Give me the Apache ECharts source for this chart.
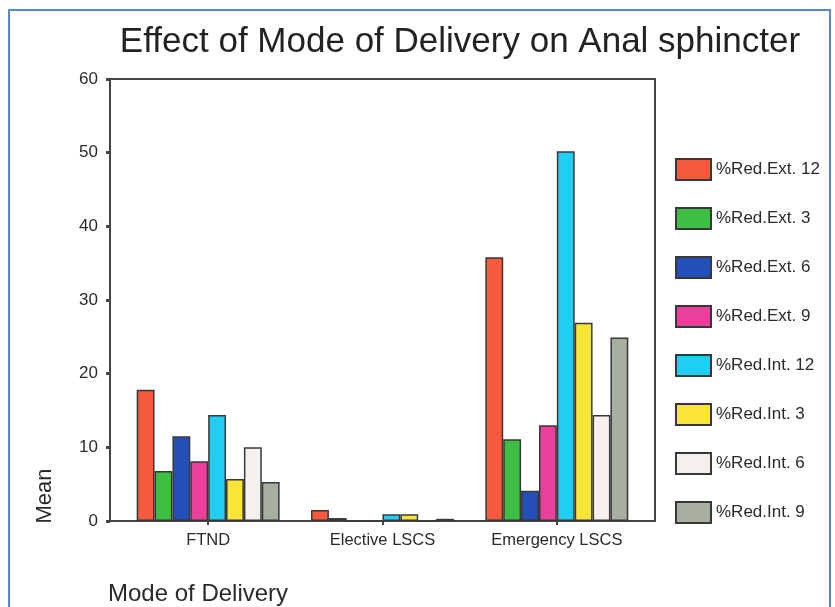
<!DOCTYPE html>
<html>
<head>
<meta charset="utf-8">
<script src="https://cdn.jsdelivr.net/npm/echarts@6/dist/echarts.min.js"></script>
<style>
html,body{margin:0;padding:0;background:#fff;}
#chart{width:835px;height:607px;}
</style>
</head>
<body>
<div id="chart"></div>
<script>
const categories = ['FTND', 'Elective LSCS', 'Emergency LSCS'];
const seriesNames = ['%Red.Ext. 12', '%Red.Ext. 3', '%Red.Ext. 6', '%Red.Ext. 9', '%Red.Int. 12', '%Red.Int. 3', '%Red.Int. 6', '%Red.Int. 9'];
const redExt12 = [17.8, 1.5, 35.8];
const redExt3  = [6.8, 0.4, 11.1];
const redExt6  = [11.5, 0, 4.1];
const redExt9  = [8.1, 0, 13.0];
const redInt12 = [14.4, 0.9, 50.2];
const redInt3  = [5.7, 0.9, 26.9];
const redInt6  = [10.0, 0, 14.4];
const redInt9  = [5.3, 0.3, 24.9];
const yTicks = [0, 10, 20, 30, 40, 50, 60];

const seriesValues = [redExt12, redExt3, redExt6, redExt9, redInt12, redInt3, redInt6, redInt9];
const colors = ['#f55a3c', '#3cbf43', '#2350b8', '#ea3f9b', '#22cdf3', '#f9e43a', '#f4f0ee', '#a7afa1'];
const FONT = '"Liberation Sans", Arial, sans-serif';
const AX = '#444';

const chart = echarts.init(document.getElementById('chart'), null, {renderer: 'canvas'});

const series = seriesValues.map((vals, i) => ({
  name: seriesNames[i],
  type: 'bar',
  xAxisIndex: 0,
  yAxisIndex: 0,
  data: vals,
  barGap: '0%',
  barCategoryGap: '18%',
  itemStyle: {color: colors[i], borderColor: '#383838', borderWidth: 1.5},
  emphasis: {disabled: true}
}));

chart.setOption({
  animation: false,
  backgroundColor: '#fff',
  title: {
    text: 'Effect of Mode of Delivery on Anal sphincter',
    left: 455, top: 20, textAlign: 'center',
    textStyle: {fontFamily: FONT, fontSize: 35, fontWeight: 'normal', color: '#222'}
  },
  graphic: [
    {type: 'rect', shape: {x: 9, y: 10, width: 821, height: 620}, style: {fill: 'none', stroke: '#5a88cc', lineWidth: 2}, silent: true},
    {type: 'text', x: 45, y: 496, rotation: Math.PI / 2, style: {text: 'Mean', font: '22px ' + FONT, fill: '#2a2a2a', textAlign: 'center', textVerticalAlign: 'middle'}},
    {type: 'text', x: 108, y: 594, style: {text: 'Mode of Delivery', font: '24px ' + FONT, fill: '#2a2a2a', textAlign: 'left', textVerticalAlign: 'middle'}}
  ],
  legend: {
    orient: 'vertical',
    left: 670, top: 153,
    itemWidth: 35, itemHeight: 21, itemGap: 26,
    icon: 'rect',
    data: seriesNames,
    textStyle: {fontFamily: FONT, fontSize: 17, color: '#2a2a2a'},
    selectedMode: false
  },
  grid: [
    {left: 121, right: 191, top: 79, bottom: 86},
    {left: 110, right: 180, top: 79, bottom: 86, show: true, borderColor: AX, borderWidth: 2, backgroundColor: 'transparent'}
  ],
  xAxis: [
    {
      type: 'category', gridIndex: 0, data: categories,
      axisLine: {show: false},
      axisTick: {show: true, alignWithLabel: true, length: 4, lineStyle: {color: AX, width: 2}},
      axisLabel: {interval: 0, hideOverlap: false, fontFamily: FONT, fontSize: 16.5, color: '#2a2a2a', margin: 11}
    },
    {
      type: 'category', gridIndex: 1, data: categories,
      axisLine: {show: true, lineStyle: {color: AX, width: 2}},
      axisTick: {show: false}, axisLabel: {show: false}
    }
  ],
  yAxis: [
    {type: 'value', gridIndex: 0, min: 0, max: 60, interval: 10, show: false, splitLine: {show: false}},
    {
      type: 'value', gridIndex: 1, min: 0, max: 60, interval: 10,
      axisLine: {show: true, lineStyle: {color: AX, width: 2}},
      axisTick: {show: true, length: 4, lineStyle: {color: AX, width: 3}},
      axisLabel: {fontFamily: FONT, fontSize: 17, color: '#2a2a2a', margin: 12,
        formatter: v => yTicks.includes(v) ? String(v) : ''},
      splitLine: {show: false}
    }
  ],
  series: series
});
</script>
</body>
</html>
